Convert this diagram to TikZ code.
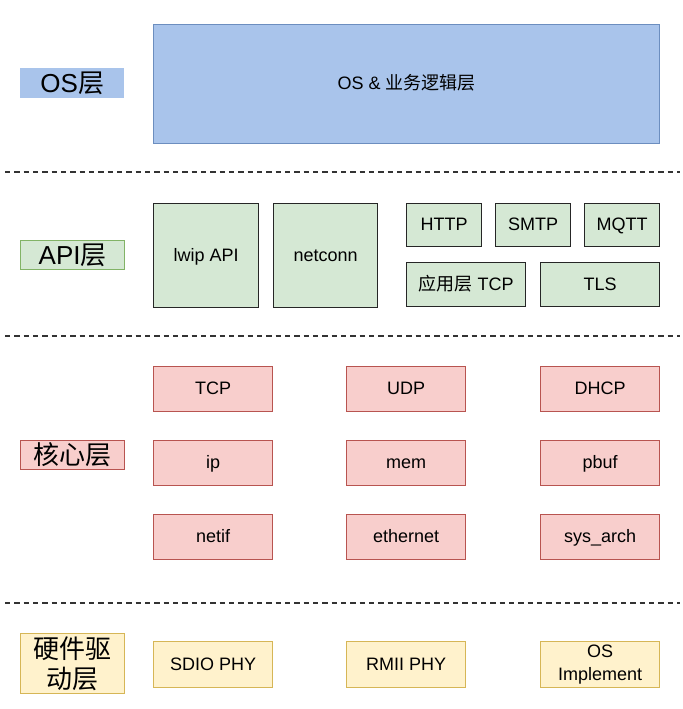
\documentclass[tikz,border=0pt]{standalone}
\usepackage{fontspec}
\setmainfont{Liberation Sans}
\newfontfamily\cjk{Noto Sans CJK SC}
\begin{document}
\begin{tikzpicture}[x=0.75pt,y=-0.75pt,
  lay/.style={line width=1pt, dash pattern=on 4pt off 3pt, draw=black!80},
  box0/.style={draw, line width=1pt, anchor=north west, font=\fontsize{13.5}{15.5}\selectfont, align=center, inner sep=0pt},
  box/.style={box0, text height=0.84em, text depth=0em},
  bluebox/.style={box, fill={rgb,255:red,169;green,196;blue,235}, draw={rgb,255:red,108;green,142;blue,191}},
  greenbox/.style={box, fill={rgb,255:red,213;green,232;blue,212}, draw=black!85},
  redbox/.style={box, fill={rgb,255:red,248;green,206;blue,204}, draw={rgb,255:red,184;green,84;blue,80}},
  yelbox/.style={box, fill={rgb,255:red,255;green,242;blue,204}, draw={rgb,255:red,214;green,182;blue,86}},
  yelbox0/.style={box0, fill={rgb,255:red,255;green,242;blue,204}, draw={rgb,255:red,214;green,182;blue,86}},
  lbl/.style={anchor=north west, inner sep=0pt, align=center, font=\fontsize{19.5}{22.5}\selectfont}
]
\useasboundingbox (0,0) rectangle (682,709);
% layer separators
\coordinate (d1a) at (5,172); \coordinate (d1b) at (680,172);
\coordinate (d2a) at (5,336); \coordinate (d2b) at (680,336);
\coordinate (d3a) at (5,603); \coordinate (d3b) at (680,603);
\draw[lay] (d1a) -- (d1b);
\draw[lay] (d2a) -- (d2b);
\draw[lay] (d3a) -- (d3b);
% labels
\node[lbl, fill={rgb,255:red,169;green,196;blue,235}, minimum width=104*0.75pt, minimum height=30*0.75pt] (osl) at (20,68) {OS{\cjk 层}};
\node[lbl, fill={rgb,255:red,213;green,232;blue,212}, draw={rgb,255:red,130;green,179;blue,102}, line width=1pt, minimum width=104*0.75pt, minimum height=29*0.75pt] (apil) at (20,240) {API{\cjk 层}};
\node[lbl, fill={rgb,255:red,248;green,206;blue,204}, draw={rgb,255:red,184;green,84;blue,80}, line width=1pt, minimum width=104*0.75pt, minimum height=29*0.75pt] (corel) at (20,440) {\cjk 核心层};
\node[lbl, fill={rgb,255:red,255;green,242;blue,204}, draw={rgb,255:red,214;green,182;blue,86}, line width=1pt, minimum width=104*0.75pt, minimum height=60*0.75pt] (hwl) at (20,633) {\cjk 硬件驱\\\cjk 动层};
% OS layer
\node[bluebox, minimum width=506*0.75pt, minimum height=119*0.75pt] (os) at (153,24) {OS \& {\cjk 业务逻辑层}};
% API layer
\node[greenbox, minimum width=105*0.75pt, minimum height=104*0.75pt] (lwip) at (153,203) {lwip API};
\node[greenbox, minimum width=104*0.75pt, minimum height=104*0.75pt] (netconn) at (273,203) {netconn};
\node[greenbox, minimum width=75*0.75pt, minimum height=43*0.75pt] (http) at (406,203) {HTTP};
\node[greenbox, minimum width=75*0.75pt, minimum height=43*0.75pt] (smtp) at (495,203) {SMTP};
\node[greenbox, minimum width=75*0.75pt, minimum height=43*0.75pt] (mqtt) at (584,203) {MQTT};
\node[greenbox, minimum width=119*0.75pt, minimum height=44*0.75pt] (apptcp) at (406,262) {{\cjk 应用层} TCP};
\node[greenbox, minimum width=119*0.75pt, minimum height=44*0.75pt] (tls) at (540,262) {TLS};
% core layer
\node[redbox, minimum width=119*0.75pt, minimum height=45*0.75pt] (tcp) at (153,366) {TCP};
\node[redbox, minimum width=119*0.75pt, minimum height=45*0.75pt] (udp) at (346,366) {UDP};
\node[redbox, minimum width=119*0.75pt, minimum height=45*0.75pt] (dhcp) at (540,366) {DHCP};
\node[redbox, minimum width=119*0.75pt, minimum height=45*0.75pt] (ip) at (153,440) {ip};
\node[redbox, minimum width=119*0.75pt, minimum height=45*0.75pt] (mem) at (346,440) {mem};
\node[redbox, minimum width=119*0.75pt, minimum height=45*0.75pt] (pbuf) at (540,440) {pbuf};
\node[redbox, minimum width=119*0.75pt, minimum height=45*0.75pt] (netif) at (153,514) {netif};
\node[redbox, minimum width=119*0.75pt, minimum height=45*0.75pt] (eth) at (346,514) {ethernet};
\node[redbox, minimum width=119*0.75pt, minimum height=45*0.75pt] (sysarch) at (540,514) {sys\_arch};
% hardware layer
\node[yelbox, minimum width=119*0.75pt, minimum height=46*0.75pt] (sdio) at (153,641) {SDIO PHY};
\node[yelbox, minimum width=119*0.75pt, minimum height=46*0.75pt] (rmii) at (346,641) {RMII PHY};
\node[yelbox0, minimum width=119*0.75pt, minimum height=46*0.75pt, font=\fontsize{13.5}{17}\selectfont] (osimp) at (540,641) {OS\\Implement};
\end{tikzpicture}
\end{document}
